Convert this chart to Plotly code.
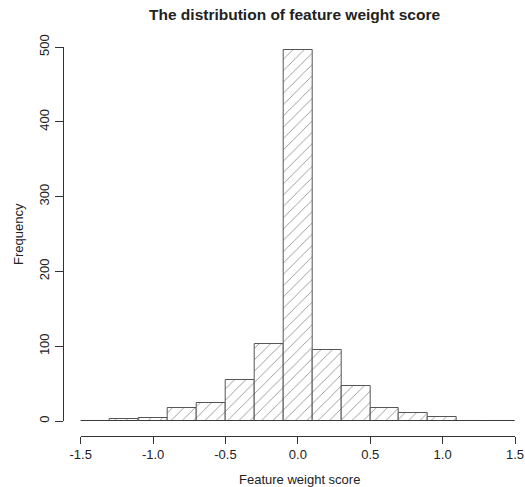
import plotly.graph_objects as go

# ---- data ----
bin_edges = [-1.5, -1.3, -1.1, -0.9, -0.7, -0.5, -0.3, -0.1, 0.1, 0.3, 0.5, 0.7, 0.9, 1.1, 1.3, 1.5]
counts = [0, 3, 4, 17, 24, 55, 103, 496, 95, 47, 17, 11, 5, 0, 0]
x_tickvals = [-1.5, -1.0, -0.5, 0.0, 0.5, 1.0, 1.5]
x_ticktext = ["-1.5", "-1.0", "-0.5", "0.0", "0.5", "1.0", "1.5"]
y_tickvals = [0, 100, 200, 300, 400, 500]
y_ticktext = ["0", "100", "200", "300", "400", "500"]

title_text = "The distribution of feature weight score"
x_label = "Feature weight score"
y_label = "Frequency"

centers = [(a + b) / 2 for a, b in zip(bin_edges[:-1], bin_edges[1:])]
widths = [b - a for a, b in zip(bin_edges[:-1], bin_edges[1:])]

W, H = 525, 487
FONT = "Liberation Sans, Arial, Helvetica, sans-serif"
TXT = "#222222"

def fx(p):
    return p / W

def fy(p):
    return 1 - p / H

fig = go.Figure()
fig.add_trace(go.Bar(
    x=centers, y=counts, width=widths,
    marker=dict(
        color="white",
        line=dict(color="#555555", width=1),
        pattern=dict(shape="/", fgcolor="#111111", bgcolor="white", size=8, solidity=0.1),
    ),
    cliponaxis=False,
    showlegend=False,
    hoverinfo="x+y",
))
# baseline of the histogram (zero-height bins drawn as a line, like R)
fig.add_trace(go.Scatter(
    x=[bin_edges[0], bin_edges[-1]], y=[0, 0], mode="lines",
    line=dict(color="#222222", width=1), showlegend=False, hoverinfo="skip",
    cliponaxis=False,
))

fig.update_layout(
    width=W, height=H,
    margin=dict(l=0, r=0, t=0, b=0, pad=0, autoexpand=False),
    paper_bgcolor="white", plot_bgcolor="white",
    font=dict(family=FONT, size=12, color=TXT),
    bargap=0,
    xaxis=dict(
        domain=[fx(80.7), fx(515)], range=[-1.5, 1.5],
        anchor="free", position=fy(435.5), automargin=False,
        showline=True, linecolor="#333333", linewidth=1,
        ticks="outside", ticklen=7, tickcolor="#333333", tickwidth=1,
        tickvals=x_tickvals, ticktext=x_ticktext,
        showgrid=False, zeroline=False,
        tickfont=dict(family=FONT, size=13, color=TXT),
    ),
    yaxis=dict(
        domain=[fy(421), fy(47)], range=[0, 500],
        anchor="free", position=fx(62.5), automargin=False,
        showline=True, linecolor="#333333", linewidth=1,
        ticks="outside", ticklen=8, tickcolor="#333333", tickwidth=1,
        tickvals=y_tickvals, ticktext=y_ticktext, tickangle=-90,
        showgrid=False, zeroline=False,
        tickfont=dict(family=FONT, size=13, color=TXT),
    ),
    annotations=[
        dict(text="<b>" + title_text + "</b>", x=fx(294), y=fy(15), xref="paper", yref="paper",
             showarrow=False, xanchor="center", yanchor="middle",
             font=dict(family=FONT, size=15.5, color=TXT)),
        dict(text=x_label, x=fx(299), y=fy(479), xref="paper", yref="paper",
             showarrow=False, xanchor="center", yanchor="middle",
             font=dict(family=FONT, size=13, color=TXT)),
        dict(text=y_label, x=fx(18), y=fy(234), xref="paper", yref="paper",
             showarrow=False, xanchor="center", yanchor="middle", textangle=-90,
             font=dict(family=FONT, size=13, color=TXT)),
    ],
)

fig.write_html("out.html")
